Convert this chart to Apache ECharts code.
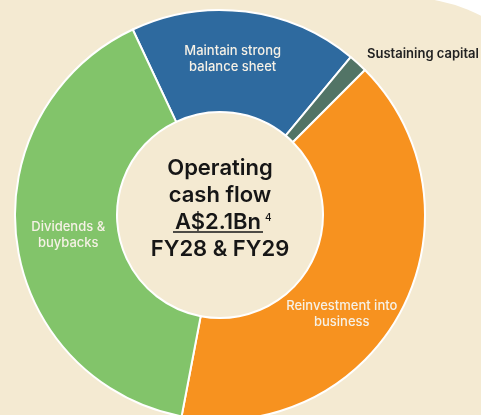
<!DOCTYPE html>
<html>
<head>
<meta charset="utf-8">
<script src="https://cdn.jsdelivr.net/npm/echarts@6/dist/echarts.min.js"></script>
<style>
  html, body { margin: 0; padding: 0; background: #ffffff; }
  #chart { width: 481px; height: 415px; }
</style>
</head>
<body>
<div id="chart"></div>
<script>
// slices, clockwise from the blue one
const categories = ['Maintain strong\nbalance sheet', 'Sustaining capital', 'Reinvestment into\nbusiness', 'Dividends &\nbuybacks']
const shares = [18, 1.5, 40.5, 40]
const colors = ['#2e6a9f', '#527466', '#f7921f', '#82c46a']
const centerLines = ['Operating', 'cash flow', 'A$2.1Bn', 'FY28 & FY29']

const chart = echarts.init(document.getElementById('chart'))

const font = 'Inter, "Noto Sans", sans-serif'
const cx = 220
const cy = 215

const option = {
    backgroundColor: '#ffffff',
    animation: false,
    graphic: [
        {
            type: 'rect',
            z: -10,
            silent: true,
            shape: { x: -10, y: -2, width: 570, height: 430, r: [0, 150, 0, 0] },
            style: { fill: '#f4ead2' }
        },
        {
            type: 'group',
            z: 100,
            children: [
                { type: 'text', x: cx, y: cy - 47, style: { text: centerLines[0], font: '600 22px ' + font, fill: '#161616', align: 'center', verticalAlign: 'middle' } },
                { type: 'text', x: cx, y: cy - 20, style: { text: centerLines[1], font: '600 22px ' + font, fill: '#161616', align: 'center', verticalAlign: 'middle' } },
                { type: 'text', x: cx - 2, y: cy + 7, style: { text: centerLines[2], font: '600 22px ' + font, fill: '#161616', align: 'center', verticalAlign: 'middle' } },
                { type: 'text', x: cx + 45, y: cy + 3, style: { text: '4', font: '500 10px ' + font, fill: '#161616', align: 'left', verticalAlign: 'middle' } },
                { type: 'line', shape: { x1: cx - 47, y1: cy + 17, x2: cx + 43, y2: cy + 17 }, style: { stroke: '#161616', lineWidth: 1.3 } },
                { type: 'text', x: cx, y: cy + 34, style: { text: centerLines[3], font: '600 22px ' + font, fill: '#161616', align: 'center', verticalAlign: 'middle' } }
            ]
        }
    ],
    series: [
        {
            type: 'pie',
            center: [cx, cy],
            radius: [103, 205],
            startAngle: 115.2,
            clockwise: true,
            silent: true,
            itemStyle: {
                borderColor: '#ffffff',
                borderWidth: 2
            },
            label: {
                show: true,
                position: 'inside',
                color: '#f6f1e6',
                fontFamily: font,
                fontWeight: 500,
                fontSize: 13,
                lineHeight: 16,
                align: 'center',
                overflow: 'none',
                formatter: '{b}'
            },
            labelLine: { show: false },
            labelLayout: function (p) {
                if (p.dataIndex === 0) return { dx: -7, dy: 0 }
                if (p.dataIndex === 2) return { dx: -17, dy: 26 }
                if (p.dataIndex === 3) return { dx: 4, dy: 0 }
                if (p.dataIndex === 1) return { x: 367, y: 54, align: 'left', verticalAlign: 'middle' }
                return {}
            },
            data: categories.map((name, i) => ({
                name: name,
                value: shares[i],
                itemStyle: { color: colors[i] },
                label: i === 1 ? {
                    position: 'outside',
                    color: '#222222',
                    fontFamily: font,
                    fontWeight: 600,
                    fontSize: 13,
                    overflow: 'none',
                    width: 200
                } : {}
            }))
        }
    ]
}

chart.setOption(option)
</script>
</body>
</html>
